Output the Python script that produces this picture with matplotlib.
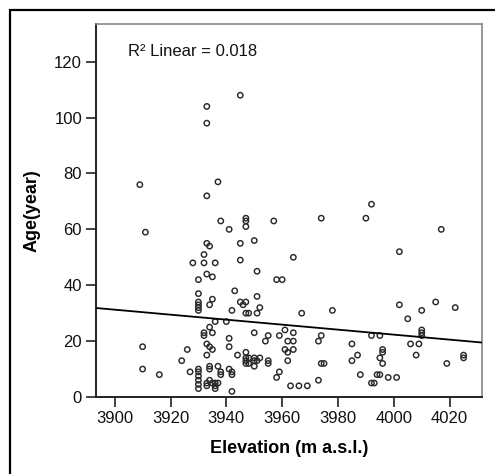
import numpy as np
import matplotlib
matplotlib.use("Agg")
import matplotlib.pyplot as plt
from matplotlib.patches import Rectangle

plt.rcParams['font.family'] = ['Liberation Sans', 'DejaVu Sans']

elevation = [3909, 3911, 3910, 3910, 3916, 3924, 3926, 3927, 3928,
             3930, 3930, 3930, 3930, 3930, 3930, 3930, 3930, 3930, 3930, 3930, 3930,
             3932, 3932, 3932, 3932,
             3933, 3933, 3933, 3933, 3933, 3933, 3933, 3933, 3933,
             3934, 3934, 3934, 3934, 3934, 3934, 3934,
             3935, 3935, 3935, 3935, 3935,
             3936, 3936, 3936, 3936, 3936,
             3937, 3937, 3937,
             3938, 3938, 3938,
             3940,
             3941, 3941, 3941, 3941,
             3942, 3942, 3942, 3942,
             3943, 3944,
             3945, 3945, 3945, 3945, 3946,
             3947, 3947, 3947, 3947, 3947, 3947, 3947, 3947, 3947,
             3948, 3948, 3948,
             3950, 3950, 3950, 3950, 3950,
             3951, 3951, 3951, 3951,
             3952, 3952, 3954,
             3955, 3955, 3955, 3957, 3958, 3958, 3959, 3959, 3960,
             3961, 3961, 3962, 3962, 3962, 3963,
             3964, 3964, 3964, 3964, 3966, 3967, 3969,
             3973, 3973, 3974, 3974, 3974, 3975, 3978,
             3985, 3985, 3987, 3988, 3990, 3992, 3992, 3992, 3993, 3994,
             3995, 3995, 3995, 3996, 3996, 3996, 3998, 4001, 4002, 4002,
             4005, 4006, 4009, 4008, 4010, 4010, 4010, 4010,
             4015, 4017, 4019, 4022, 4025, 4025]
age = [76, 59, 18, 10, 8, 13, 17, 9, 48,
       42, 37, 34, 33, 32, 31, 10, 9, 7.5, 6, 4.5, 3,
       51, 48, 23, 22,
       104, 98, 72, 55, 44, 19, 15, 5, 4,
       54, 33, 25, 18, 11, 10, 6,
       43, 35, 23, 17, 5,
       48, 27, 5, 4, 3,
       77, 11, 5,
       63, 9, 8,
       27,
       60, 21, 18, 10,
       31, 9, 8, 2,
       38, 15,
       108, 55, 49, 34, 33,
       64, 63, 61, 34, 30, 16, 14, 13, 12,
       30, 14, 12,
       56, 23, 14, 13, 11,
       45, 36, 30, 13,
       32, 14, 20,
       22, 13, 12, 63, 42, 7, 22, 9, 42,
       24, 17, 20, 16, 13, 4,
       50, 23, 20, 17, 4, 30, 4,
       6, 20, 22, 64, 12, 12, 31,
       19, 13, 15, 8, 64, 69, 22, 5, 5, 8,
       8, 22, 14, 17, 16, 12, 7, 7, 52, 33,
       28, 19, 19, 15, 31, 24, 23, 22,
       34, 60, 12, 32, 15, 14]

x_ticks = [3900, 3920, 3940, 3960, 3980, 4000, 4020]
y_ticks = [0, 20, 40, 60, 80, 100, 120]
r2_label = "R\u00b2 Linear = 0.018"
x_label = "Elevation (m a.s.l.)"
y_label = "Age(year)"

W, H = 495, 474
fig = plt.figure(figsize=(W / 100, H / 100), dpi=100)
ax = fig.add_axes([96 / W, 1 - 397 / H, (482 - 96) / W, (397 - 24) / H])

xlim = (3893.3, 4031.6)
ylim = (0, 133.5)

ax.scatter(elevation, age, s=15, facecolors='none', edgecolors='#2a2a2a',
           linewidths=1.05, zorder=3)

slope, intercept = np.polyfit(elevation, age, 1)
xs = np.array(xlim)
ax.plot(xs, slope * xs + intercept, color='black', lw=1.3, zorder=4)

ax.set_xlim(*xlim)
ax.set_ylim(*ylim)
ax.set_xticks(x_ticks)
ax.set_yticks(y_ticks)
ax.tick_params(axis='both', direction='out', length=7, width=1.1,
               labelsize=12, colors='#111111', pad=3)

for s in ['left', 'bottom']:
    ax.spines[s].set_linewidth(1.4)
    ax.spines[s].set_color('#222222')
for s in ['top', 'right']:
    ax.spines[s].set_linewidth(1.2)
    ax.spines[s].set_color('#888888')

ax.text(0.083, 0.925, r2_label, transform=ax.transAxes, fontsize=12,
        ha='left', va='center', color='#111111')

ax.set_xlabel(x_label, fontsize=13, fontweight='bold', labelpad=10)
ax.set_ylabel(y_label, fontsize=13, fontweight='bold', labelpad=10)

fig.patches.append(Rectangle((10 / W, -0.1), 1.2, (1 - 10 / H) + 0.1,
                             transform=fig.transFigure, fill=False,
                             edgecolor='black', lw=1.6))

fig.savefig("out.png", dpi=100)
